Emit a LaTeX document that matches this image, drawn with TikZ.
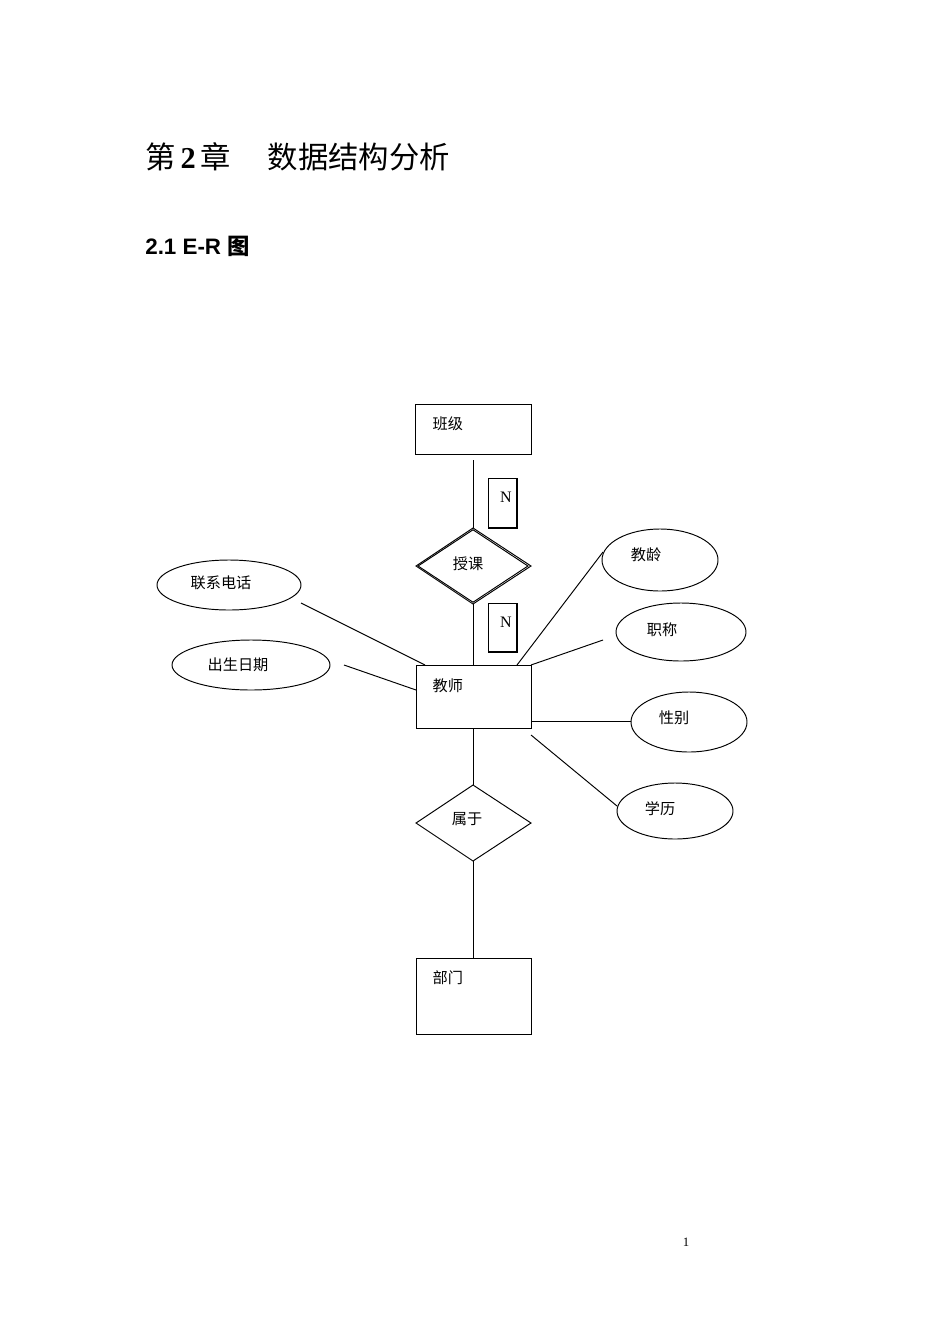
\documentclass[tikz,border=0pt]{standalone}
\usepackage{fontspec}
\setmainfont{Liberation Serif}
\setsansfont{Liberation Sans}
\newfontfamily\cjk{Noto Sans CJK SC}
\usetikzlibrary{shapes.geometric}
\begin{document}
\begin{tikzpicture}[x=0.626pt,y=-0.626pt,
  ln/.style={draw,line width=0.6pt},
  ent/.style={draw,line width=0.6pt,rectangle,anchor=north west},
  ell/.style={draw,line width=0.6pt,ellipse,inner sep=0pt},
  dia/.style={draw,line width=0.6pt,diamond,inner sep=0pt},
  lbl/.style={font=\cjk\fontsize{9.5}{11}\selectfont},
  nb/.style={draw,line width=0.6pt,minimum width=18pt,minimum height=31pt,inner sep=0pt,font=\fontsize{10}{12}\selectfont}]
\useasboundingbox (0,0) rectangle (950,1344);
\fill[white] (0,0) rectangle (950,1344);
\node[anchor=west,inner sep=0pt] (title) at (145,157) {\cjk\fontsize{19}{22}\selectfont 第\,\textbf{\fontspec{Liberation Serif}2}\,章\hspace{1.2em}数据结构分析};
\node[anchor=west,inner sep=0pt] (sec) at (145,246) {\fontsize{14}{16}\selectfont\sffamily\bfseries 2.1 E-R {\cjk 图}};
% entities
\draw[line width=0.6pt] (415,404) rectangle (531,454);
\node[lbl,anchor=west] (bj) at (427,424) {班级};
\coordinate (bjb) at (473,460);
\draw[line width=0.6pt] (416,665) rectangle (531,728);
\node[lbl,anchor=west] (js) at (427,686) {教师};
\draw[line width=0.6pt] (416,958) rectangle (531,1034);
\node[lbl,anchor=west] (bm) at (427,978) {部门};
% diamonds
\node[dia,minimum width=115\pgflinewidth,minimum height=76\pgflinewidth] (sk) at (473,566) {};
\draw[line width=0.6pt] (416,566) -- (473,528) -- (531,566) -- (473,604) -- cycle;
\node[lbl] (skt) at (468,564) {授课};
\draw[line width=0.6pt] (416,823) -- (473,785) -- (531,823) -- (473,861) -- cycle;
\node[lbl] (syt) at (467,819) {属于};
% N boxes
\draw[line width=0.6pt] (488,478) rectangle (517,528);
\draw[line width=1.2pt] (489,528) -- (517,528) -- (517,479);
\node[font=\fontsize{10}{12}\selectfont] (n1) at (506,497) {N};
\draw[line width=0.6pt] (488,603) rectangle (517,652);
\draw[line width=1.2pt] (489,652) -- (517,652) -- (517,604);
\node[font=\fontsize{10}{12}\selectfont] (n2) at (506,622) {N};
% vertical lines
\draw[ln] (473,460) -- (473,528);
\draw[ln] (473,604) -- (473,665);
\draw[ln] (473,728) -- (473,785);
\draw[ln] (473,861) -- (473,958);
% attributes
\draw[line width=0.6pt] (229,585) ellipse [x radius=72,y radius=25];
\node[lbl] (lx) at (221,583) {联系电话};
\draw[ln] (301,603) -- (425,665);
\draw[line width=0.6pt] (251,665) ellipse [x radius=79,y radius=25];
\node[lbl] (cs) at (238,665) {出生日期};
\draw[ln] (344,665) -- (416,690);
\draw[line width=0.6pt] (660,560) ellipse [x radius=58,y radius=31];
\node[lbl] (jl) at (646,555) {教龄};
\draw[ln] (603,552) -- (517,665);
\draw[line width=0.6pt] (681,632) ellipse [x radius=65,y radius=29];
\node[lbl] (zc) at (662,630) {职称};
\draw[ln] (603,640) -- (531,665);
\draw[line width=0.6pt] (689,722) ellipse [x radius=58,y radius=30];
\node[lbl] (xb) at (674,718) {性别};
\draw[ln] (531,721) -- (631,721);
\draw[line width=0.6pt] (675,811) ellipse [x radius=58,y radius=28];
\node[lbl] (xl) at (660,809) {学历};
\draw[ln] (531,735) -- (617,806);
\node[font=\fontsize{8}{10}\selectfont] (pg) at (686,1242) {1};
\end{tikzpicture}
\end{document}
